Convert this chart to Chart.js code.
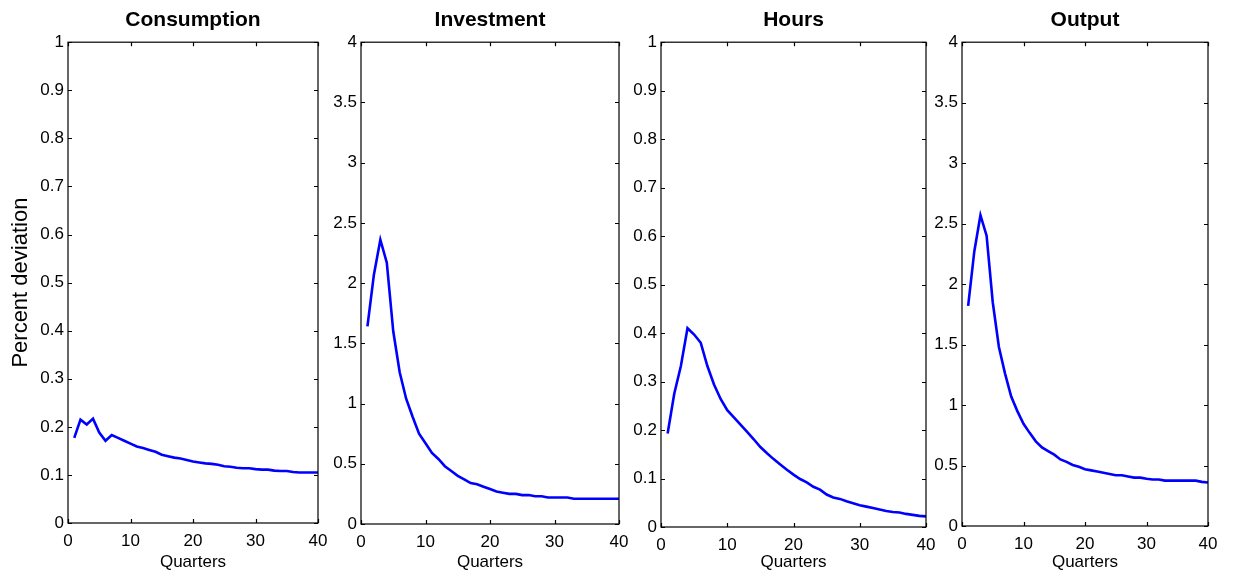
<!DOCTYPE html>
<html>
<head>
<meta charset="utf-8">
<script src="https://cdn.jsdelivr.net/npm/chart.js@4"></script>
<style>
  html, body { margin: 0; padding: 0; background: #fff; }
  #wrap { position: relative; width: 1233px; height: 579px; overflow: hidden; }
  #wrap canvas { position: absolute; top: 0; }
</style>
</head>
<body>
<div id="wrap">
  <canvas id="c1" width="330" height="579" style="left:0px"></canvas>
  <canvas id="c2" width="300" height="579" style="left:330px"></canvas>
  <canvas id="c3" width="305" height="579" style="left:630px"></canvas>
  <canvas id="c4" width="298" height="579" style="left:935px"></canvas>
</div>
<script>
// quarters after the shock
const quarters = [1, 2, 3, 4, 5, 6, 7, 8, 9, 10, 11, 12, 13, 14, 15, 16, 17, 18, 19, 20,
                  21, 22, 23, 24, 25, 26, 27, 28, 29, 30, 31, 32, 33, 34, 35, 36, 37, 38, 39, 40];

const consumption = [0.177, 0.215, 0.205, 0.217, 0.188, 0.171, 0.183, 0.177, 0.171, 0.165,
                     0.159, 0.156, 0.152, 0.148, 0.142, 0.139, 0.136, 0.134, 0.131, 0.128,
                     0.126, 0.124, 0.123, 0.121, 0.118, 0.117, 0.115, 0.114, 0.114, 0.112,
                     0.111, 0.111, 0.109, 0.108, 0.108, 0.106, 0.105, 0.105, 0.105, 0.105];

const investment = [1.64, 2.07, 2.36, 2.17, 1.60, 1.26, 1.04, 0.89, 0.75, 0.67,
                    0.59, 0.54, 0.48, 0.44, 0.40, 0.37, 0.34, 0.33, 0.31, 0.29,
                    0.27, 0.26, 0.25, 0.25, 0.24, 0.24, 0.23, 0.23, 0.22, 0.22,
                    0.22, 0.22, 0.21, 0.21, 0.21, 0.21, 0.21, 0.21, 0.21, 0.21];

const hours = [0.193, 0.275, 0.332, 0.410, 0.397, 0.380, 0.332, 0.294, 0.264, 0.241,
               0.226, 0.211, 0.196, 0.181, 0.165, 0.152, 0.140, 0.129, 0.118, 0.108,
               0.099, 0.092, 0.083, 0.077, 0.067, 0.061, 0.058, 0.053, 0.049, 0.045,
               0.042, 0.039, 0.036, 0.033, 0.031, 0.030, 0.027, 0.025, 0.023, 0.022];

const output = [1.82, 2.27, 2.57, 2.40, 1.85, 1.48, 1.26, 1.07, 0.95, 0.845,
                0.77, 0.70, 0.65, 0.62, 0.59, 0.55, 0.53, 0.505, 0.49, 0.47,
                0.46, 0.45, 0.44, 0.43, 0.42, 0.42, 0.41, 0.40, 0.40, 0.39,
                0.385, 0.385, 0.375, 0.375, 0.375, 0.375, 0.375, 0.375, 0.365, 0.36];

const xTicks = [0, 10, 20, 30, 40];
const yTicksUnit = [0, 0.1, 0.2, 0.3, 0.4, 0.5, 0.6, 0.7, 0.8, 0.9, 1];
const yTicksFour = [0, 0.5, 1, 1.5, 2, 2.5, 3, 3.5, 4];

const FONT = '"Liberation Sans", Arial, Helvetica, sans-serif';

// MATLAB style box with inward ticks on all four sides
const boxPlugin = {
    id: 'matlabBox',
    afterDraw(chart) {
        const { ctx, chartArea: a, scales } = chart;
        const len = 4;
        ctx.save();
        ctx.strokeStyle = '#000';
        ctx.lineWidth = 1.2;
        ctx.beginPath();
        scales.x.ticks.forEach(t => {
            const px = Math.round(scales.x.getPixelForValue(t.value)) + 0.5;
            ctx.moveTo(px, a.bottom); ctx.lineTo(px, a.bottom - len);
            ctx.moveTo(px, a.top); ctx.lineTo(px, a.top + len);
        });
        scales.y.ticks.forEach(t => {
            const py = Math.round(scales.y.getPixelForValue(t.value)) + 0.5;
            ctx.moveTo(a.left, py); ctx.lineTo(a.left + len, py);
            ctx.moveTo(a.right, py); ctx.lineTo(a.right - len, py);
        });
        ctx.stroke();
        ctx.strokeRect(a.left, a.top, a.right - a.left, a.bottom - a.top);
        ctx.restore();
    }
};

function makePanel(id, title, values, yTicks, yMax, layout, yTitle) {
    const canvas = document.getElementById(id);
    new Chart(canvas.getContext('2d'), {
        type: 'line',
        data: {
            datasets: [{
                data: quarters.map((q, i) => ({ x: q, y: values[i] })),
                borderColor: '#0000ff',
                borderWidth: 2.6,
                pointRadius: 0,
                tension: 0,
                fill: false
            }]
        },
        plugins: [boxPlugin],
        options: {
            responsive: false,
            animation: false,
            devicePixelRatio: 1,
            layout: { autoPadding: false, padding: { left: 0, right: layout.padR, top: 0, bottom: 0 } },
            plugins: {
                legend: { display: false },
                tooltip: { enabled: false },
                title: {
                    display: true,
                    text: title,
                    fullSize: false,
                    color: '#000',
                    font: { family: FONT, size: 21, weight: 'bold' },
                    padding: { top: 8, bottom: 9 }
                }
            },
            scales: {
                x: {
                    type: 'linear',
                    min: 0,
                    max: 40,
                    afterBuildTicks: (s) => { s.ticks = xTicks.map(v => ({ value: v })); },
                    afterFit: (s) => { s.height = layout.xH; s.paddingLeft = 0; s.paddingRight = 0; },
                    grid: { display: false, drawTicks: false },
                    border: { display: false },
                    ticks: {
                        color: '#000',
                        padding: 8,
                        maxRotation: 0,
                        font: { family: FONT, size: 17 },
                        callback: (v) => String(v)
                    },
                    title: {
                        display: true,
                        text: 'Quarters',
                        color: '#000',
                        padding: 6,
                        font: { family: FONT, size: 17 }
                    }
                },
                y: {
                    type: 'linear',
                    min: 0,
                    max: yMax,
                    afterBuildTicks: (s) => { s.ticks = yTicks.map(v => ({ value: v })); },
                    afterFit: (s) => { s.width = layout.yW; s.paddingTop = 0; s.paddingBottom = 0; },
                    grid: { display: false, drawTicks: false },
                    border: { display: false },
                    ticks: {
                        color: '#000',
                        padding: 4,
                        font: { family: FONT, size: 17 },
                        callback: (v) => String(v)
                    },
                    title: {
                        display: !!yTitle,
                        text: yTitle || '',
                        color: '#000',
                        padding: 8,
                        font: { family: FONT, size: 22 }
                    }
                }
            }
        }
    });
}

makePanel('c1', 'Consumption', consumption, yTicksUnit, 1, { yW: 68, padR: 12, xH: 56 }, 'Percent deviation');
makePanel('c2', 'Investment', investment, yTicksFour, 4, { yW: 31, padR: 11, xH: 55 });
makePanel('c3', 'Hours', hours, yTicksUnit, 1, { yW: 31, padR: 9, xH: 52 });
makePanel('c4', 'Output', output, yTicksFour, 4, { yW: 27, padR: 25, xH: 53 });
</script>
</body>
</html>
